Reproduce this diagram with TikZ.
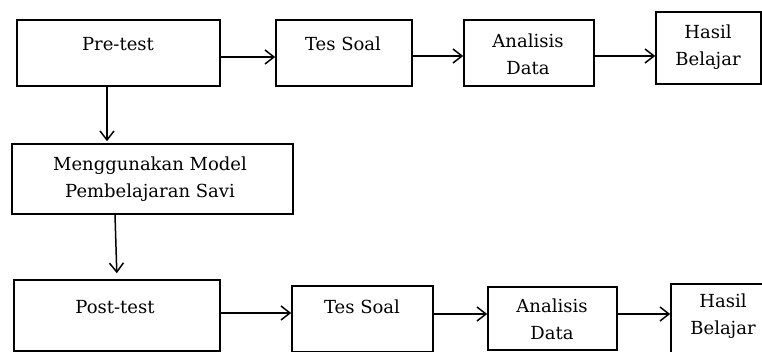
\documentclass[tikz,border=0pt]{standalone}
\usepackage{fontspec}
\setmainfont{DejaVu Serif}
\usetikzlibrary{arrows.meta}
\begin{document}
\begin{tikzpicture}[x=1pt,y=-1pt,
  box/.style={draw,line width=1.6pt,inner sep=0pt},
  txt/.style={align=center,inner sep=0pt,font=\fontsize{18}{27}\selectfont},
  arr/.style={line width=1.5pt,-{Straight Barb[length=9pt,width=14pt,line width=1.5pt]}}]
\useasboundingbox (0,0) rectangle (762,352);

% top row
\node[box,minimum width=203,minimum height=66] (pre)    at (118.5,53) {};
\node[box,minimum width=136,minimum height=66] (tesa)   at (344,53) {};
\node[box,minimum width=130,minimum height=66] (anaa)   at (529,53) {};
\node[box,minimum width=105,minimum height=72] (hasila) at (708.5,48) {};
\node[txt] (pretxt)    at (118,44) {Pre-test};
\node[txt] (tesatxt)   at (343,44) {Tes Soal};
\node[txt] (anaatxt)   at (528,54.5) {Analisis\\Data};
\node[txt] (hasilatxt) at (708,47.5) {Hasil\\Belajar};

% middle
\node[box,minimum width=281,minimum height=70] (model) at (152.5,179) {};
\node[txt] (modeltxt) at (150,179) {Menggunakan Model\\Pembelajaran Savi};

% bottom row
\node[box,minimum width=206,minimum height=71] (post)   at (117,315.5) {};
\node[box,minimum width=141,minimum height=66] (tesb)   at (362.5,319) {};
\node[box,minimum width=129,minimum height=63] (anab)   at (552.5,318.5) {};
\node[box,minimum width=105,minimum height=72] (hasilb) at (723.5,320) {};
\node[txt] (posttxt)   at (115,307) {Post-test};
\node[txt] (tesbtxt)   at (362,307) {Tes Soal};
\node[txt] (anabtxt)   at (552,319.5) {Analisis\\Data};
\node[txt] (hasilbtxt) at (723,316.5) {Hasil\\Belajar};

% arrows
\draw[arr] ([yshift=-4pt]pre.east) -- ([yshift=-4pt]pre.east -| tesa.west);
\draw[arr] ([yshift=-3pt]tesa.east) -- ([yshift=-3pt]tesa.east -| anaa.west);
\draw[arr] ([yshift=-3pt]anaa.east) -- ([yshift=-3pt]anaa.east -| hasila.west);
\draw[arr,shorten >=2pt] ([xshift=-11.5pt]pre.south) -- ([xshift=-11.5pt]pre.south |- model.north);
\draw[arr,shorten >=6pt] ([xshift=-37.5pt]model.south) -- (post.north);
\draw[arr] ([yshift=2.5pt]post.east) -- ([yshift=2.5pt]post.east -| tesb.west);
\draw[arr] ([yshift=5pt]tesb.east) -- ([yshift=5pt]tesb.east -| anab.west);
\draw[arr] ([yshift=4.5pt]anab.east) -- ([yshift=4.5pt]anab.east -| hasilb.west);
\end{tikzpicture}
\end{document}
